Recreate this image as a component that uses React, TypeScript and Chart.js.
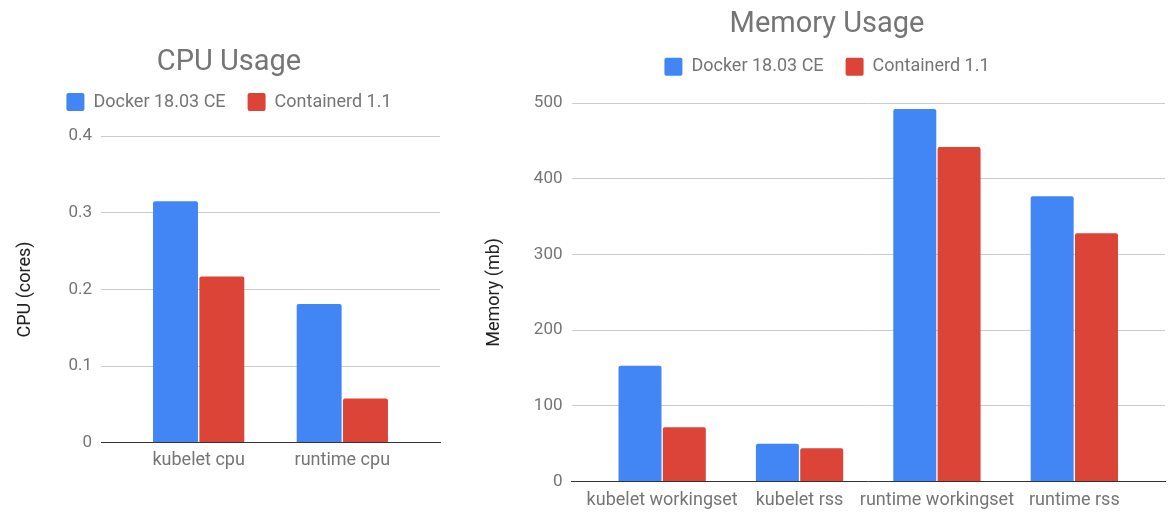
import React, { useEffect, useRef } from 'react';
import { Chart, registerables } from 'chart.js';

Chart.register(...registerables);

// ---- data ----
const seriesNames = ['Docker 18.03 CE', 'Containerd 1.1'];
const seriesColors = ['#4285F4', '#DB4437'];

const cpuTitle = 'CPU Usage';
const cpuAxisTitle = 'CPU (cores)';
const cpuCategories = ['kubelet cpu', 'runtime cpu'];
const cpuDocker = [0.315, 0.181];
const cpuContainerd = [0.217, 0.058];
const cpuMax = 0.4;
const cpuStep = 0.1;

const memTitle = 'Memory Usage';
const memAxisTitle = 'Memory (mb)';
const memCategories = ['kubelet workingset', 'kubelet rss', 'runtime workingset', 'runtime rss'];
const memDocker = [153, 50, 492, 377];
const memContainerd = [72, 44, 442, 328];
const memMax = 500;
const memStep = 100;

const FONT = 'Roboto';
const TEXT = '#757575';

type PanelProps = {
  title: string;
  axisTitle: string;
  categories: string[];
  docker: number[];
  containerd: number[];
  yMax: number;
  yStep: number;
  left: number;
  width: number;
  pad: { left: number; right: number; bottom: number };
  titlePad: { top: number; bottom: number };
  legendGap: number;
  yWidth: number;
  yTitleLH: number;
  xOverhang: number;
  xTickPad: number;
};

function Panel(p: PanelProps) {
  const ref = useRef<HTMLCanvasElement | null>(null);
  useEffect(() => {
    if (!ref.current) return;
    const gapPlugin = {
      id: 'legendGapPlugin',
      beforeInit(chart: any) {
        const legend = chart.legend;
        if (!legend) return;
        const orig = legend.fit;
        legend.fit = function () {
          orig.call(this);
          this.height += p.legendGap;
        };
      },
    };
    const mk = (vals: number[]) => vals.map((v, i) => ({ x: i, y: v }));
    const chart = new Chart(ref.current, {
      type: 'bar',
      data: {
        datasets: [
          {
            label: seriesNames[0],
            data: mk(p.docker),
            backgroundColor: seriesColors[0],
            borderRadius: 2,
            categoryPercentage: 0.645,
            barPercentage: 0.97,
          } as any,
          {
            label: seriesNames[1],
            data: mk(p.containerd),
            backgroundColor: seriesColors[1],
            borderRadius: 2,
            categoryPercentage: 0.645,
            barPercentage: 0.97,
          } as any,
        ],
      },
      options: {
        responsive: false,
        animation: false,
        layout: { padding: { left: p.pad.left, right: p.pad.right, top: 0, bottom: p.pad.bottom } },
        plugins: {
          title: {
            display: true,
            text: p.title,
            color: TEXT,
            font: { family: FONT, size: 29, weight: 'normal', lineHeight: 0.6 },
            padding: { top: p.titlePad.top, bottom: p.titlePad.bottom },
          },
          legend: {
            display: true,
            position: 'top',
            labels: {
              color: TEXT,
              font: { family: FONT, size: 18 },
              boxWidth: 18,
              boxHeight: 18,
              padding: 22,
              useBorderRadius: true,
              borderRadius: 2,
            },
          },
          tooltip: { enabled: false },
        },
        scales: {
          x: {
            type: 'linear',
            offset: false,
            bounds: 'data',
            min: -p.xOverhang,
            max: p.categories.length - 1 + p.xOverhang,
            grid: { display: false, drawTicks: false, offset: false },
            border: { display: true, color: '#333333', width: 1, z: 1 },
            afterBuildTicks: (axis: any) => {
              axis.ticks = p.categories.map((_, i) => ({ value: i }));
            },
            ticks: {
              autoSkip: false,
              maxRotation: 0,
              padding: p.xTickPad,
              color: TEXT,
              font: { family: FONT, size: 18 },
              callback: (v: any) => p.categories[v] ?? '',
            },
          },
          y: {
            min: 0,
            max: p.yMax,
            grid: { color: '#cccccc', drawTicks: false },
            border: { display: false },
            afterFit: (scale: any) => {
              scale.width = p.yWidth;
            },
            ticks: {
              stepSize: p.yStep,
              padding: 9,
              color: TEXT,
              font: { family: FONT, size: 17 },
            },
            title: {
              display: true,
              text: p.axisTitle,
              color: '#222222',
              font: { family: FONT, size: 18, lineHeight: p.yTitleLH },
              padding: { top: 0, bottom: 0 },
            },
          },
        },
      } as any,
      plugins: [gapPlugin],
    });
    return () => chart.destroy();
  }, []);
  return (
    <div style={{ position: 'absolute', left: p.left, top: 0, width: p.width, height: 523 }}>
      <canvas ref={ref} width={p.width} height={523} style={{ width: p.width, height: 523, display: 'block' }} />
    </div>
  );
}

export default function App() {
  return (
    <div style={{ position: 'fixed', left: 0, top: 0, width: 1176, height: 523, background: '#ffffff' }}>
      <Panel
        title={cpuTitle}
        axisTitle={cpuAxisTitle}
        categories={cpuCategories}
        docker={cpuDocker}
        containerd={cpuContainerd}
        yMax={cpuMax}
        yStep={cpuStep}
        left={0}
        width={458}
        pad={{ left: 18, right: 18, bottom: 45.5 }}
        titlePad={{ top: 53.6, bottom: 0 }}
        legendGap={15}
        yWidth={83}
        yTitleLH={0.833}
        xOverhang={0.68}
        xTickPad={6.5}
      />
      <Panel
        title={memTitle}
        axisTitle={memAxisTitle}
        categories={memCategories}
        docker={memDocker}
        containerd={memContainerd}
        yMax={memMax}
        yStep={memStep}
        left={478}
        width={698}
        pad={{ left: 11, right: 11, bottom: 3.7 }}
        titlePad={{ top: 16.3, bottom: 2 }}
        legendGap={17.3}
        yWidth={82.5}
        yTitleLH={0.611}
        xOverhang={0.66}
        xTickPad={8}
      />
    </div>
  );
}
